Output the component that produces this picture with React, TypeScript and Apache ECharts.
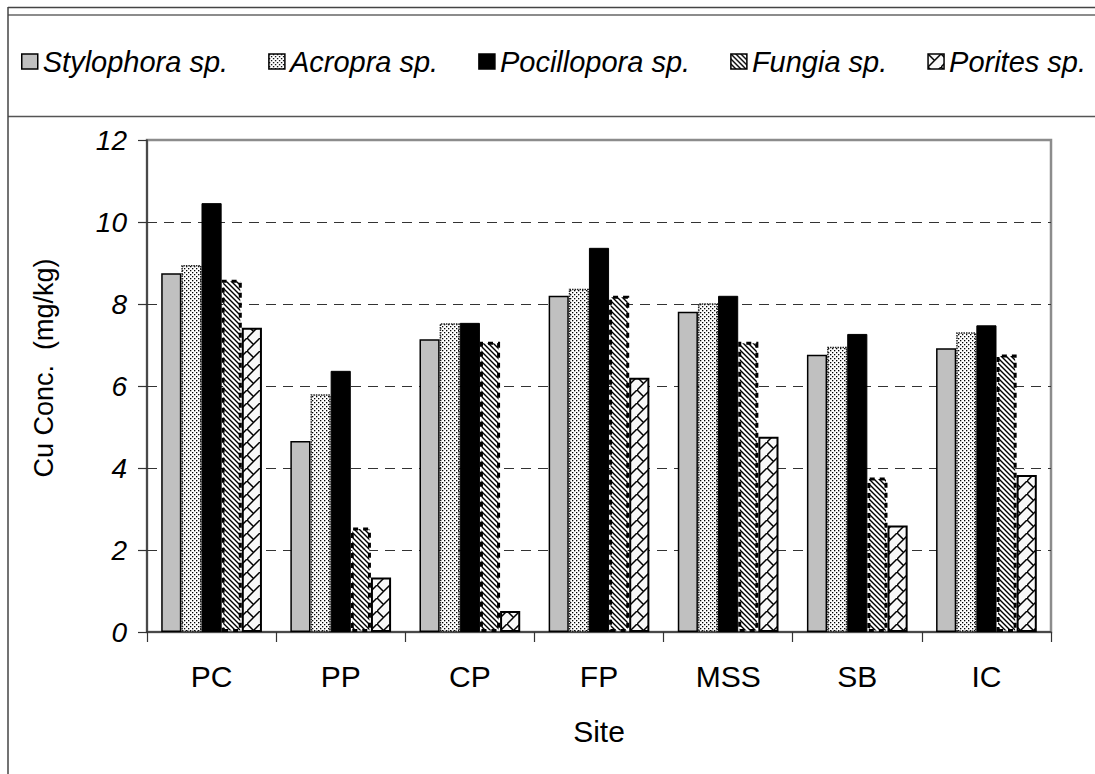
import React, { useEffect, useRef } from "react";
import * as echarts from "echarts";

const categories = ["PC", "PP", "CP", "FP", "MSS", "SB", "IC"];
const seriesNames = ["Stylophora sp.", "Acropra sp.", "Pocillopora sp.", "Fungia sp.", "Porites sp."];
const stylophora = [8.75, 4.66, 7.14, 8.2, 7.81, 6.76, 6.92];
const acropra = [8.95, 5.8, 7.53, 8.37, 8.02, 6.96, 7.31];
const pocillopora = [10.46, 6.37, 7.54, 9.37, 8.2, 7.27, 7.48];
const fungia = [8.59, 2.55, 7.08, 8.2, 7.08, 3.77, 6.77];
const porites = [7.42, 1.33, 0.51, 6.2, 4.76, 2.6, 3.83];
const yMin = 0;
const yMax = 12;
const yStep = 2;
const xTitle = "Site";
const yTitle = "Cu Conc.  (mg/kg)";

const FONT = "'Liberation Sans', Arial, sans-serif";

function makeTile(size: number, bg: string, draw: (ctx: CanvasRenderingContext2D) => void) {
  const c = document.createElement("canvas");
  c.width = size;
  c.height = size;
  const ctx = c.getContext("2d")!;
  ctx.fillStyle = bg;
  ctx.fillRect(0, 0, size, size);
  draw(ctx);
  return c;
}

function dotsPattern() {
  return makeTile(4, "#ffffff", (ctx) => {
    ctx.fillStyle = "#000";
    ctx.fillRect(0, 0, 1.3, 1.3);
    ctx.fillRect(2, 2, 1.3, 1.3);
  });
}

function diagPattern() {
  const s = 5;
  return makeTile(s, "#ffffff", (ctx) => {
    ctx.strokeStyle = "#000";
    ctx.lineWidth = 1.4;
    ctx.beginPath();
    ctx.moveTo(-1, -1);
    ctx.lineTo(s + 1, s + 1);
    ctx.moveTo(-1, s - 1);
    ctx.lineTo(1, s + 1);
    ctx.moveTo(s - 1, -1);
    ctx.lineTo(s + 1, 1);
    ctx.stroke();
  });
}

function brickPattern() {
  const s = 13;
  return makeTile(s, "#f8f8f8", (ctx) => {
    ctx.strokeStyle = "#000";
    ctx.lineWidth = 1.5;
    ctx.beginPath();
    ctx.moveTo(-1, s + 1);
    ctx.lineTo(s + 1, -1);
    ctx.moveTo(0, 0);
    ctx.lineTo(s / 2, s / 2);
    ctx.stroke();
  });
}

export default function App() {
  const ref = useRef<HTMLDivElement>(null);

  useEffect(() => {
    if (!ref.current) return;
    const chart = echarts.init(ref.current, undefined, { renderer: "svg" });

    const dots = { image: dotsPattern(), repeat: "repeat" };
    const diag = { image: diagPattern(), repeat: "repeat" };
    const brick = { image: brickPattern(), repeat: "repeat" };

    const styles: any[] = [
      { color: "#c0c0c0", borderColor: "#000", borderWidth: 1.5 },
      { color: dots, borderColor: "#222", borderWidth: 1.5, borderType: [1.5, 1] },
      { color: "#000", borderColor: "#000", borderWidth: 1 },
      { color: diag, borderColor: "#000", borderWidth: 3, borderType: [5, 5] },
      { color: brick, borderColor: "#000", borderWidth: 2 },
    ];
    const data = [stylophora, acropra, pocillopora, fungia, porites];

    const option: any = {
      animation: false,
      backgroundColor: "#fff",
      textStyle: { fontFamily: FONT },
      legend: {
        left: 21,
        top: 47,
        width: 1200,
        padding: 0,
        itemWidth: 16,
        itemHeight: 15,
        itemGap: 40,
        icon: "rect",
        textStyle: { fontFamily: FONT, fontSize: 29, fontStyle: "italic", color: "#000" },
        data: seriesNames.map((n, i) => ({
          name: n,
          itemStyle: { ...styles[i], borderWidth: 1.5, borderType: "solid", borderColor: "#000" },
        })),
      },
      grid: {
        left: 147,
        top: 140,
        width: 904,
        height: 492,
        show: true,
        borderColor: "#8c8c8c",
        borderWidth: 2.5,
        backgroundColor: "transparent",
      },
      xAxis: {
        type: "category",
        data: categories,
        name: xTitle,
        nameLocation: "middle",
        nameGap: 84,
        nameTextStyle: { fontFamily: FONT, fontSize: 30, color: "#000" },
        axisLine: { lineStyle: { color: "#333", width: 1.5 } },
        axisTick: { show: true, length: 10, lineStyle: { color: "#333", width: 1.2 } },
        axisLabel: { margin: 29, fontFamily: FONT, fontSize: 30, color: "#000" },
      },
      yAxis: {
        type: "value",
        min: yMin,
        max: yMax,
        interval: yStep,
        axisLine: { show: true, lineStyle: { color: "#333", width: 1.5 } },
        axisTick: { show: true, length: 9, lineStyle: { color: "#333", width: 1.2 } },
        axisLabel: { margin: 20, fontFamily: FONT, fontSize: 28, fontStyle: "italic", color: "#000" },
        splitLine: {
          show: true,
          showMinLine: false,
          showMaxLine: false,
          lineStyle: { color: "#333", width: 1.2, type: [10, 7] },
        },
      },
      series: seriesNames.map((n, i) => ({
        name: n,
        type: "bar",
        data: data[i],
        barGap: "0%",
        barCategoryGap: "22%",
        itemStyle: styles[i],
        emphasis: { disabled: true },
      })),
      graphic: [
        { type: "line", shape: { x1: 8, y1: 7.5, x2: 1095, y2: 7.5 }, style: { stroke: "#444", lineWidth: 1.5 }, silent: true },
        { type: "line", shape: { x1: 8, y1: 15, x2: 1095, y2: 15 }, style: { stroke: "#666", lineWidth: 1.5 }, silent: true },
        { type: "line", shape: { x1: 8, y1: 116.5, x2: 1095, y2: 116.5 }, style: { stroke: "#555", lineWidth: 1.5 }, silent: true },
        { type: "line", shape: { x1: 8, y1: 7, x2: 8, y2: 774 }, style: { stroke: "#444", lineWidth: 1.5 }, silent: true },
        {
          type: "text",
          x: 44,
          y: 368,
          rotation: Math.PI / 2,
          silent: true,
          style: {
            text: yTitle,
            fontFamily: FONT,
            fontSize: 27,
            fill: "#000",
            textAlign: "center",
            textVerticalAlign: "middle",
          },
        },
      ],
    };

    chart.setOption(option);
    return () => chart.dispose();
  }, []);

  return (
    <div
      ref={ref}
      style={{ position: "fixed", left: 0, top: 0, width: 1095, height: 774, background: "#fff" }}
    />
  );
}
